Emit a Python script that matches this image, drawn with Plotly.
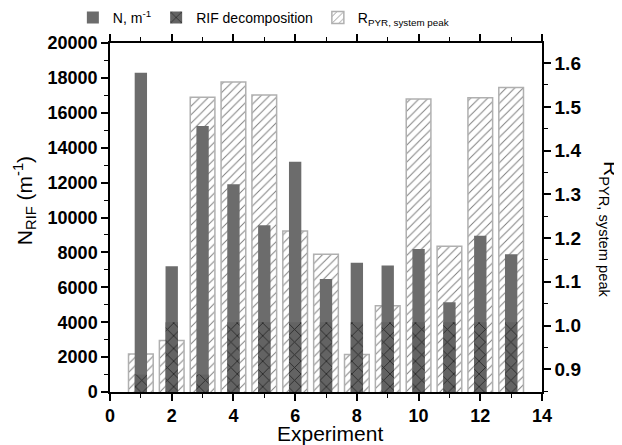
import plotly.graph_objects as go

experiments = [1, 2, 3, 4, 5, 6, 7, 8, 9, 10, 11, 12, 13]
n_values = [18300, 7200, 15250, 11900, 9550, 13200, 6470, 7400, 7250, 8200, 5150, 8950, 7900]
rif_values = [1000, 4000, 1000, 4000, 4000, 4000, 4000, 4000, 4000, 4000, 4000, 4000, 4000]
r_values = [0.935, 0.966, 1.522, 1.557, 1.527, 1.216, 1.163, 0.934, 1.045, 1.518, 1.181, 1.521, 1.544]

font_family = "Liberation Sans, Arial, sans-serif"

fig = go.Figure()

# R bars (behind), primary axis y shown on the right
fig.add_trace(go.Bar(
    x=experiments, y=r_values, width=0.8, yaxis="y",
    name="R<sub>PYR, system peak</sub>", legendrank=3,
    marker=dict(color="white",
                line=dict(color="#b0b0b0", width=1.5),
                pattern=dict(shape="/", bgcolor="white", fgcolor="#7e7e7e",
                             size=6, solidity=0.16, fillmode="replace")),
))

# N bars on y2 (left axis, drawn above)
fig.add_trace(go.Bar(
    x=experiments, y=n_values, width=0.4, yaxis="y2",
    name="N, m<sup>-1</sup>", legendrank=1,
    marker=dict(color="#6c6c6c", line=dict(width=0)),
))

fig.add_trace(go.Bar(
    x=experiments, y=rif_values, width=0.4, yaxis="y2",
    name="RIF decomposition", legendrank=2,
    marker=dict(color="#5e5e5e", line=dict(width=0),
                pattern=dict(shape="x", bgcolor="#636363", fgcolor="#262626",
                             size=9, solidity=0.18, fillmode="replace")),
))

tick_font = dict(family=font_family, size=18, color="black", weight="bold")
tick_font_r = dict(family=font_family, size=19, color="black", weight="bold")

fig.update_layout(
    width=614, height=437,
    margin=dict(l=102, r=80, t=35, b=53, autoexpand=False),
    paper_bgcolor="white", plot_bgcolor="white",
    barmode="overlay",
    font=dict(family=font_family, color="black"),
    showlegend=True,
    legend=dict(orientation="h", x=0.355, y=1.072, xanchor="center", yanchor="middle",
                font=dict(size=14, family=font_family), bgcolor="rgba(0,0,0,0)",
                traceorder="normal", itemwidth=30, tracegroupgap=0),
    xaxis=dict(range=[0, 14], dtick=2, tick0=0, showgrid=False, zeroline=False,
               automargin=False,
               showline=True, linecolor="black", linewidth=1.5, mirror="ticks",
               ticks="outside", ticklen=7, tickwidth=1.5, tickcolor="black",
               minor=dict(dtick=1, ticks="outside", ticklen=4, tickcolor="black", tickwidth=1),
               tickfont=tick_font),
    yaxis=dict(range=[0.848, 1.646], side="right", dtick=0.1, tick0=0.9,
               tickformat=".1f", showgrid=False, zeroline=False, automargin=False,
               showline=True, linecolor="black", linewidth=1.5,
               ticks="outside", ticklen=7, tickwidth=1.5, tickcolor="black",
               minor=dict(dtick=0.05, ticks="outside", ticklen=4, tickcolor="black", tickwidth=1),
               tickfont=tick_font_r),
    yaxis2=dict(range=[0, 20000], side="left", overlaying="y", dtick=2000,
                tickformat="d", showgrid=False, zeroline=False, automargin=False,
                showline=True, linecolor="black", linewidth=1.5,
                ticks="outside", ticklen=7, tickwidth=1.5, tickcolor="black",
                minor=dict(dtick=1000, ticks="outside", ticklen=4, tickcolor="black", tickwidth=1),
                tickfont=tick_font),
    annotations=[
        dict(text="R<sub>PYR, system peak</sub>", textangle=90,
             xref="paper", yref="paper", x=1.156, y=0.466,
             xanchor="center", yanchor="middle", showarrow=False,
             font=dict(size=21, family=font_family, color="black")),
        dict(text="N<sub>RIF</sub> (m<sup>-1</sup>)", textangle=-90,
             xref="paper", yref="paper", x=-0.199, y=0.547,
             xanchor="center", yanchor="middle", showarrow=False,
             font=dict(size=21, family=font_family, color="black")),
        dict(text="Experiment",
             xref="paper", yref="paper", x=0.509, y=-0.12,
             xanchor="center", yanchor="middle", showarrow=False,
             font=dict(size=21, family=font_family, color="black")),
    ],
)

fig.write_html("out.html")
